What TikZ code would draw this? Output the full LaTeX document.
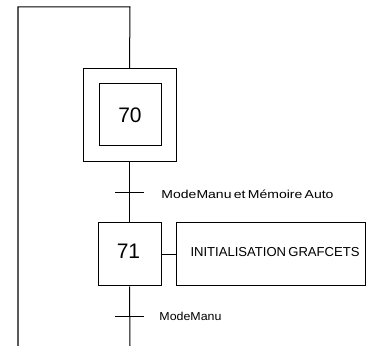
\documentclass[tikz,border=0pt]{standalone}
\usepackage{fontspec}
\setmainfont{Liberation Sans}
\begin{document}
\begin{tikzpicture}[x=1pt,y=1pt,line width=1pt,
  stepbox/.style={draw,minimum width=63pt,minimum height=63pt,inner sep=0pt},
  outerbox/.style={draw,minimum width=93pt,minimum height=93pt,inner sep=0pt},
  innerbox/.style={draw,minimum width=62pt,minimum height=62pt,inner sep=0pt},
  actbox/.style={draw,minimum width=189pt,minimum height=63pt,inner sep=0pt},
  num/.style={inner sep=0pt,font=\fontsize{21}{24}\selectfont},
  lbl/.style={inner sep=0pt,anchor=base west,font=\fontsize{11.5}{13}\selectfont},
  trans/.style={inner sep=0pt,minimum width=29pt,minimum height=0pt}]
\useasboundingbox (0,0) rectangle (376,346);
\coordinate (tl) at (18,339);
\coordinate (tr) at (130,339);
\coordinate (bl) at (18,0);
\coordinate (br) at (130,0);
\node[outerbox] (o70) at (129.5,230.5) {};
\node[innerbox] (s70) at (130,231) {};
\node[num] (n70) at (s70.center) {70};
\coordinate (t1) at (130,153);
\coordinate (t1a) at (115,153);
\coordinate (t1b) at (144,153);
\node[stepbox] (s71) at (129.5,91.5) {};
\node[num] (n71) at ([xshift=-1pt,yshift=3.5pt]s71.center) {71};
\node[actbox] (a71) at (270.5,91.5) {};
\node[inner sep=0pt,anchor=base west,font=\fontsize{13}{15}\selectfont] (ta) at (190,89.5)
  {\resizebox{169pt}{\height}{INITIALISATION\,GRAFCETS}};
\coordinate (t2a) at (115,29);
\coordinate (t2b) at (144,29);
\node[lbl] (l1) at (161,147) {\resizebox{172pt}{\height}{ModeManu\,et\,Mémoire\,Auto}};
\node[lbl] (l2) at (159,25) {\resizebox{62pt}{\height}{ModeManu}};
\draw (bl) -- (tl) -- (tr) -- (o70.north);
\draw (o70.south) -- (s71.north);
\draw (t1a) -- (t1b);
\draw (s71.south) -- (br);
\draw (t2a) -- (t2b);
\draw (s71.east) -- (a71.west);
\end{tikzpicture}
\end{document}
